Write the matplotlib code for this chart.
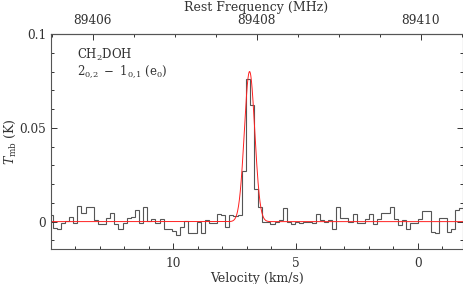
import numpy as np
import matplotlib
matplotlib.use("Agg")
import matplotlib.pyplot as plt

plt.rcParams['font.family'] = ['DejaVu Serif']
plt.rcParams['mathtext.fontset'] = 'dejavuserif'

# spectrum: channel grid (km/s) and antenna temperature (K)
chan_first_edge = 15.098
chan_width = 0.168
tmb = [
    0.0035, -0.0035, -0.004, -0.001, 0.0005, 0.0025, -0.001, 0.0085, 0.0045, 0.008,
    0.008, 0.001, -0.0015, -0.0015, 0.002, 0.0045, -0.0015, -0.004, -0.0005, 0.002,
    0.0025, 0.006, -0.0005, 0.008, 0.0005, 0.0015, -0.001, 0.0015, -0.004, -0.004,
    -0.005, -0.007, -0.003, 0.0005, -0.006, -0.006, 0.0, -0.006, 0.001, -0.001,
    -0.0005, 0.004, 0.0035, -0.003, 0.0035, 0.003, 0.0035, 0.027, 0.0758, 0.0624,
    0.0173, 0.008, -0.0004, -0.0004, -0.0015, 0.0, 0.001, 0.007, -0.0004, -0.0015,
    0.0, -0.001, -0.0004, 0.0, -0.001, 0.004, 0.001, 0.0, 0.001, -0.004,
    0.008, 0.002, 0.002, 0.0, 0.004, -0.001, -0.001, 0.0015, 0.004, -0.0015,
    0.0015, 0.0045, 0.0045, 0.008, 0.0015, -0.002, 0.001, -0.004, -0.001, -0.0005,
    0.0015, 0.0055, 0.0055, -0.0055, -0.006, 0.002, 0.002, -0.0055, -0.004, 0.006,
    0.007,
]

# gaussian fit parameters
fit_amp = 0.080
fit_v0 = 6.88
fit_fwhm = 0.50

# frequency axis mapping
ref_freq = 89408.0
ref_vel = 6.59
kms_per_mhz = 3.353

line_label = "CH$_2$DOH"
trans_label = r"$2_{0{,}2}\ -\ 1_{0{,}1}\ (\mathrm{e}_0)$"

edges = chan_first_edge - chan_width * np.arange(len(tmb) + 1)

fig = plt.figure(figsize=(4.63, 2.84), dpi=100)
ax = fig.add_axes([0.1102, 0.1232, 0.8888, 0.7571])

ax.stairs(tmb, edges, color='#555555', lw=0.8, baseline=None)

vfit = np.linspace(15.5, -2.5, 2000)
sig = fit_fwhm / 2.3548
ax.plot(vfit, fit_amp * np.exp(-0.5 * ((vfit - fit_v0) / sig) ** 2),
        color='#ff2020', lw=0.7)

ax.set_xlim(15.0, -1.83)
ax.set_ylim(-0.0146, 0.1)
ax.set_xticks([10, 5, 0])
ax.set_xticks(np.arange(-1, 16, 1), minor=True)
ax.set_yticks([0, 0.05, 0.1])
ax.set_yticklabels(['0', '0.05', '0.1'])
ax.set_yticks(np.arange(-0.01, 0.1, 0.01), minor=True)
ax.tick_params(which='both', direction='in', right=True, top=False,
               labelsize=8.7, colors='#333333', width=0.7)
ax.tick_params(which='major', length=4.5)
ax.tick_params(axis='x', which='major', pad=6)
ax.tick_params(which='minor', length=2.5)
for s in ax.spines.values():
    s.set_color('#555555')
    s.set_linewidth(0.8)

ax.set_xlabel("Velocity (km/s)", fontsize=9, color='#333333', labelpad=1)
ax.set_ylabel(r"$T_{\rm mb}$ (K)", fontsize=9, color='#333333', labelpad=1)

top = ax.secondary_xaxis('top',
                         functions=(lambda v: ref_freq + (ref_vel - v) / kms_per_mhz,
                                    lambda f: ref_vel - (f - ref_freq) * kms_per_mhz))
top.set_xticks([89406, 89408, 89410])
top.set_xticks(np.arange(89404, 89411, 0.5), minor=True)
top.tick_params(which='both', direction='in', labelsize=8.7, colors='#333333', width=0.7)
top.tick_params(which='major', length=4.5, pad=5)
top.tick_params(which='minor', length=2.5)
top.spines['top'].set_color('#555555')
fig.text(0.5531, 1 - 7.5 / 284, "Rest Frequency (MHz)", fontsize=9,
         color='#333333', ha='center', va='center')

ax.text(0.062, 0.902, line_label, transform=ax.transAxes, fontsize=8.5,
        color='#333333', va='center')
ax.text(0.062, 0.826, trans_label, transform=ax.transAxes, fontsize=8.5,
        color='#333333', va='center')

fig.savefig("out.png", dpi=100)
